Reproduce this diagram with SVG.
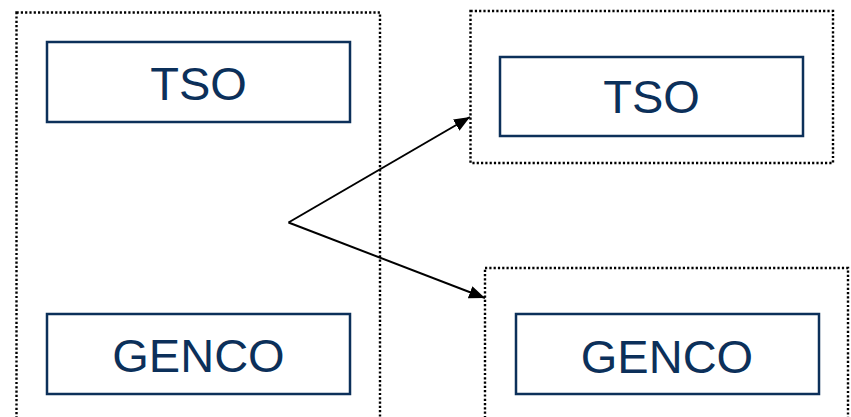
<svg xmlns="http://www.w3.org/2000/svg" width="851" height="417" viewBox="0 0 851 417">
<style>
.grp{fill:none;stroke:#000;stroke-width:2.4;stroke-dasharray:2.2 2.1}
.box{fill:#fff;stroke:#0c305a;stroke-width:2.5}
.lbl{font-family:"Liberation Sans",Arial,sans-serif;font-size:47px;fill:#0c305a;text-anchor:middle}
.conn{fill:none;stroke:#000;stroke-width:2}
</style>
<defs>
<marker id="arr" markerUnits="userSpaceOnUse" markerWidth="17" markerHeight="13" refX="16" refY="6.5" orient="auto">
<path d="M0,0 L16,6.5 L0,13 Z" fill="#000"/>
</marker>
</defs>
<rect width="851" height="417" fill="#fff"/>
<g id="group-left">
<rect class="grp" x="16.5" y="12.5" width="363.5" height="420"/>
</g>
<g id="group-right-tso">
<rect class="grp" x="470.5" y="11" width="362.5" height="152"/>
</g>
<g id="group-right-genco">
<rect class="grp" x="485" y="268" width="363" height="170"/>
</g>
<g id="tso-left">
<rect class="box" x="47" y="42" width="303" height="80"/>
<text class="lbl" x="198.5" y="100">TSO</text>
</g>
<g id="genco-left">
<rect class="box" x="47" y="314" width="303" height="80"/>
<text class="lbl" x="198.5" y="372">GENCO</text>
</g>
<g id="tso-right">
<rect class="box" x="500" y="57" width="303" height="79"/>
<text class="lbl" x="651.5" y="113">TSO</text>
</g>
<g id="genco-right">
<rect class="box" x="516" y="314" width="303" height="80"/>
<text class="lbl" x="667" y="372.5">GENCO</text>
</g>
<g id="connectors">
<line class="conn" x1="288.5" y1="222.5" x2="470" y2="117" marker-end="url(#arr)"/>
<line class="conn" x1="288.5" y1="222.5" x2="485" y2="298" marker-end="url(#arr)"/>
</g>
</svg>
